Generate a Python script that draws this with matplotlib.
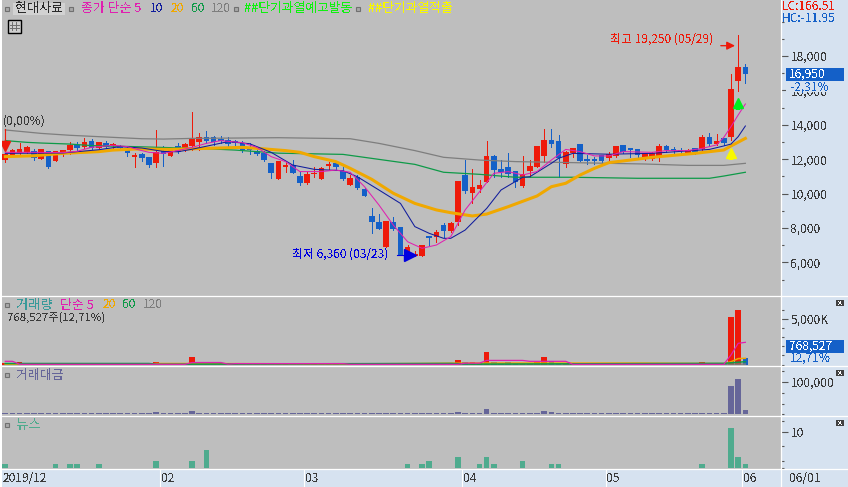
import matplotlib
matplotlib.use("Agg")
import matplotlib.pyplot as plt
import numpy as np
from matplotlib.patches import Rectangle

plt.rcParams["text.antialiased"] = False

W, H = 848, 487
KR = ["Noto Sans CJK KR", "DejaVu Sans"]

# daily candles, 2019/12 .. 2020/06
opens = [11950, 12240, 12340, 12400, 12460, 12010, 12420, 11900, 12440, 12510,
         12810, 12690, 13040, 12670, 12880, 12770, 12730, 12570, 12150, 12240,
         12070, 11800, 12420, 12200, 12710, 12570, 12790, 13020, 13250, 13230,
         13160, 13100, 13000, 12920, 12590, 12460, 12340, 11720, 10850, 11570,
         11600, 10980, 10640, 11120, 10870, 11620, 11760, 11280, 10520, 10910,
         10210, 8680, 8330, 6920, 8330, 8000, 6430, 6360, 6400, 7520,
         7460, 8120, 7830, 8370, 11020, 10050, 10290, 10690, 12130, 11410,
         11490, 11260, 10440, 11310, 11550, 12210, 13060, 13000, 11720, 12360,
         12830, 11990, 11990, 12190, 12070, 12190, 12770, 12630, 12570, 12070,
         12030, 12210, 12730, 12570, 12500, 12380, 12630, 12570, 13250, 12880,
         13170, 13310, 16550, 17300]
highs = [12250, 12570, 12920, 12770, 12570, 12530, 12460, 12460, 12530, 13020,
         13020, 13210, 13170, 13000, 13040, 12920, 12830, 12730, 12340, 12340,
         12150, 13700, 12770, 12570, 12920, 12960, 14740, 13540, 13640, 13350,
         13350, 13270, 13120, 13040, 12920, 12690, 12500, 11720, 11840, 11860,
         11950, 11280, 11280, 11570, 11530, 11820, 11760, 11570, 11080, 11080,
         10310, 9140, 8790, 8390, 8660, 8000, 7010, 6660, 7000, 7520,
         7880, 8270, 8330, 10670, 11950, 11410, 10790, 13060, 12240, 11950,
         12380, 11280, 12190, 11950, 12710, 13760, 13760, 13410, 12500, 12630,
         12830, 12240, 12150, 12190, 12440, 12770, 12830, 12630, 12570, 12380,
         12440, 12880, 12830, 12690, 12650, 12570, 12630, 13410, 13540, 13470,
         13210, 16950, 19250, 17530]
lows = [11860, 12190, 12300, 12340, 11950, 12010, 11490, 11900, 12200, 12280,
        12530, 12630, 12610, 12630, 12630, 12530, 12570, 12190, 11570, 11910,
        11570, 11570, 11620, 12190, 12380, 12500, 12530, 12530, 12920, 12830,
        12920, 12630, 12630, 12440, 12300, 12240, 11910, 10890, 10850, 11280,
        11180, 10500, 10540, 10980, 10870, 11410, 11370, 10790, 10500, 10270,
        9880, 7730, 7960, 6920, 7880, 6430, 6430, 6360, 6400, 7010,
        7210, 7500, 7790, 8170, 10050, 9430, 10110, 10660, 10950, 10950,
        10980, 10360, 10400, 10950, 11550, 11860, 12730, 10950, 11530, 12150,
        11920, 11720, 11700, 11760, 11950, 12150, 12380, 12150, 12110, 11950,
        11950, 11900, 12440, 12280, 12280, 12340, 12300, 12530, 12770, 12810,
        12830, 13120, 15980, 16410]
closes = [12240, 12480, 12530, 12650, 12070, 12530, 11530, 12420, 12510, 12790,
          12630, 12940, 12670, 12940, 12730, 12830, 12670, 12380, 12220, 12050,
          11680, 12360, 12320, 12510, 12440, 12830, 13120, 13270, 13080, 13020,
          13080, 12860, 12960, 12530, 12530, 12300, 11950, 11180, 11840, 11620,
          11220, 10640, 11080, 11180, 11430, 11660, 11570, 10830, 10890, 10330,
          9880, 8370, 7960, 8350, 7940, 6430, 6840, 6470, 7000, 7440,
          7750, 7850, 8230, 10670, 10170, 10330, 10440, 12130, 11370, 11240,
          11140, 10670, 11080, 11550, 12710, 13060, 12880, 12070, 12360, 12630,
          11920, 11900, 11920, 11920, 12260, 12710, 12420, 12530, 12230, 12340,
          12300, 12710, 12540, 12460, 12460, 12520, 12440, 13230, 12860, 12990,
          12920, 16020, 17300, 16950]

# moving averages, read at the bars where the line bends
ma5_i = [0, 4, 8, 10, 12, 15, 17, 19, 20, 22, 24, 26, 28, 30, 33, 35, 37, 39, 41, 44, 46, 48, 50,
         52, 54, 56, 58, 60, 62, 64, 66, 68, 70, 72, 74, 76, 78, 80, 82, 84, 86, 90, 92, 95, 97,
         99, 100, 101, 102, 103]
ma5_v = [12400, 12400, 12380, 12460, 12690, 12810, 12730, 12500, 12400, 12340, 12500, 12690,
         12920, 13080, 12960, 12690, 12150, 11860, 11280, 11280, 11370, 11240, 10400,
         9340, 8170, 7200, 6820, 7010, 7500, 9050, 10110, 11180, 11280, 11080, 11280, 11950,
         12570, 12440, 12190, 12190, 12440, 12400, 12500, 12500, 12630, 12830, 13270, 13890,
         14570, 15210]
ma10_i = [0, 8, 13, 16, 19, 22, 24, 26, 31, 34, 37, 40, 43, 47, 49, 52, 55, 57, 59, 61, 62, 64,
          67, 69, 72, 73, 76, 77, 79, 84, 90, 98, 100, 101, 102, 103]
ma10_v = [12340, 12360, 12550, 12730, 12650, 12450, 12430, 12580, 13020, 12900, 12400, 11660,
          11410, 11330, 10980, 10210, 9430, 8080, 7690, 7400, 7400, 7880, 9140, 10210, 10950,
          10980, 11760, 12050, 12340, 12290, 12340, 12570, 12770, 12880, 13310, 13930]
ma20_i = [0, 4, 8, 13, 15, 18, 23, 28, 33, 36, 39, 41, 43, 46, 48, 51, 54, 57, 60, 62, 65, 67,
          70, 74, 76, 78, 80, 82, 84, 87, 90, 96, 100, 101, 103]
ma20_v = [12150, 12200, 12340, 12440, 12530, 12590, 12570, 12630, 12690, 12600, 12500, 12400,
          12150, 11860, 11470, 10830, 10020, 9430, 9050, 8890, 8700, 8810, 9240, 9860, 10400,
          10600, 11080, 11470, 11800, 11950, 12110, 12340, 12535, 12770, 13210]
ma60_i = [0, 3, 5, 9, 12, 18, 23, 29, 32, 38, 47, 52, 57, 61, 66, 71, 79, 88, 98, 100, 103]
ma60_v = [13080, 12980, 12940, 12880, 12790, 12730, 12670, 12590, 12530, 12350, 12280, 11990,
          11700, 11240, 11120, 10950, 10950, 10890, 10890, 11020, 11240]
ma120_i = [0, 2, 5, 9, 13, 19, 22, 26, 38, 48, 52, 57, 61, 66, 71, 79, 89, 95, 100, 103]
ma120_v = [13700, 13620, 13500, 13390, 13310, 13190, 13170, 13210, 13250, 13190, 12920, 12500,
           12110, 11950, 11860, 11800, 11720, 11640, 11640, 11760]

# volume in thousands of shares
volume = [150, 130, 280, 130, 130, 130, 130, 130, 130, 130,
          130, 130, 130, 130, 130, 130, 130, 130, 130, 130,
          130, 280, 130, 130, 130, 130, 800, 130, 130, 130,
          130, 130, 140, 130, 130, 130, 130, 130, 130, 130,
          130, 130, 130, 130, 130, 130, 130, 130, 130, 130,
          130, 130, 130, 130, 130, 130, 130, 130, 130, 130,
          130, 130, 130, 480, 330, 330, 130, 1350, 230, 130,
          330, 130, 130, 130, 330, 800, 400, 130, 130, 130,
          130, 130, 130, 130, 130, 130, 130, 130, 130, 130,
          130, 130, 130, 130, 130, 130, 130, 330, 130, 130,
          130, 5220, 5990, 768.527]
# only the part of each average that shows above the others
vma5_i = [0, 1, 2, 25, 26, 30, 31, 32, 47, 48, 63, 64, 66, 67, 72, 73, 78, 79, 90, 97, 100, 101, 102, 103]
vma5_v = [350, 350, 20, 20, 220, 220, 40, 100, 100, 20, 20, 150, 150, 450, 450, 350, 350, 20, 20, 20, 20,
          1050, 2330, 2440]
vma20_i = [0, 20, 21, 25, 47, 58, 64, 88, 100, 101, 102, 103]
vma20_v = [40, 40, 110, 110, 60, 110, 160, 160, 100, 300, 650, 680]
vma60_i = [0, 20, 21, 62, 65, 100, 103]
vma60_v = [110, 110, 30, 120, 40, 130, 310]
vma120_i = [0, 58, 62, 103]
vma120_v = [20, 60, 60, 40]

# trading value
money = [3500] * 21 + [6000] + [3500] * 4 + [10000, 5000] + [3500] * 35 + [8000, 5000, 5000, 3500, 16000, 5000, 3500,
         5000, 3500, 5000, 5000, 5000, 10000, 7000, 5000] + [3500] * 19 + [5000, 5000, 3500, 3500, 87000, 108000, 13000]

# news counts
news_i = [0, 7, 9, 10, 13, 21, 26, 28, 56, 58, 59, 63, 66, 67, 68, 72, 76, 77, 97, 101, 102, 103]
news_n = [1, 1, 1, 1, 1, 2, 2, 5, 1, 1, 2, 3, 1, 3, 1, 2, 1, 1, 1, 11, 3, 1]

month_bars = [22, 42, 64, 84, 103]
month_labels = ["02", "03", "04", "05", "06"]
price_ticks = [6000, 8000, 10000, 12000, 14000, 16000, 18000]

BG = "#BEBEBE"
PANEL = "#D6E2F0"
RED = "#EE1A0A"
BLUE = "#1460C8"
MAGENTA = "#E020B0"
NAVY = "#101C9C"
ORANGE = "#F0A800"
GREEN = "#0E9A48"
GRAY = "#7E7E7E"
PURPLE = "#666699"
TEAL = "#4FAB8E"
INK = "#3A3A3A"

fig = plt.figure(figsize=(W / 100, H / 100), dpi=100, facecolor=PANEL)


def pane(top, bottom, y0, y1):
    ax = fig.add_axes([2 / W, 1 - bottom / H, 779 / W, (bottom - top) / H], facecolor=BG)
    ax.set_xlim((2 - 5.3) / 7.185, (781 - 5.3) / 7.185)
    ax.set_ylim(y0, y1)
    ax.set_xticks([])
    for s in ax.spines.values():
        s.set_visible(False)
    ax.yaxis.tick_right()
    ax.tick_params(axis="y", which="major", length=5, width=0.8, color="#555555", labelsize=8.6,
                   labelcolor=INK, pad=2)
    ax.tick_params(axis="y", which="minor", length=2.4, width=0.8, color="#555555")
    return ax


x = np.arange(len(closes))
up = np.array(closes) >= np.array(opens)
cols = [RED if u else BLUE for u in up]
body_w = 0.78

# price pane
ax = pane(0, 296, 4046, 21256)
ax.vlines(x, lows, highs, colors=cols, linewidth=0.72, zorder=3, antialiased=False)
ax.bar(x, np.abs(np.array(closes) - np.array(opens)) + 40, body_w, bottom=np.minimum(opens, closes),
       color=cols, linewidth=0, zorder=3, antialiased=False)
ax.plot(ma120_i, ma120_v, color=GRAY, lw=0.9, zorder=4)
ax.plot(ma60_i, ma60_v, color=GREEN, lw=0.9, zorder=4)
ax.plot(ma20_i, ma20_v, color=ORANGE, lw=2.2, zorder=4)
ax.plot(ma10_i, ma10_v, color=NAVY, lw=0.75, zorder=5)
ax.plot(ma5_i, ma5_v, color=MAGENTA, lw=0.75, zorder=5)
ax.set_yticks(price_ticks)
ax.set_yticklabels([f"{t:,}" for t in price_ticks], family=KR)
ax.set_yticks(np.arange(5000, 21000, 1000), minor=True)

# high / low / start markers
ax.annotate("", xy=(101.95, 18600), xytext=(99.2, 18600),
            arrowprops=dict(arrowstyle="-|>", color=RED, lw=1.0, mutation_scale=12), zorder=6)
ax.plot([54.5, 56], [6430, 6430], color="#0000E0", lw=0.8, zorder=6)
ax.plot(56.3, 6430, marker=">", color="#0000E0", ms=8, zorder=6)
ax.plot([0, 0], [12800, 13750], color=RED, lw=0.8, zorder=6)
ax.plot(0, 12780, marker="v", color=RED, ms=6.5, zorder=6)
ax.plot([102, 102], [14860, 15200], color="#00F020", lw=3.2, zorder=6, solid_capstyle="butt")
ax.plot(102, 15240, marker="^", color="#00F020", ms=6.5, zorder=6)
ax.plot([101, 101], [11950, 12300], color="#F8F800", lw=3.2, zorder=6, solid_capstyle="butt")
ax.plot(101, 12350, marker="^", color="#F8F800", ms=6.5, zorder=6)

# volume pane
ax2 = pane(297, 366, -165, 7425)
ax2.bar(x, volume, body_w, color=cols, linewidth=0, antialiased=False)
ax2.plot(vma120_i, vma120_v, color=GRAY, lw=1.1)
ax2.plot(vma20_i, vma20_v, color=ORANGE, lw=1.1)
ax2.plot(vma60_i, vma60_v, color=GREEN, lw=1.1)
ax2.plot(vma5_i, vma5_v, color=MAGENTA, lw=0.9)
ax2.set_yticks([5000])
ax2.set_yticklabels(["5,000K"], family=KR)
ax2.set_yticks([0, 1000, 2000, 3000, 4000, 6000], minor=True)

# trading value pane
ax3 = pane(367, 416, -5200, 144600)
ax3.bar(x, money, body_w, color=PURPLE, linewidth=0, antialiased=False)
ax3.set_yticks([100000])
ax3.set_yticklabels(["100,000"], family=KR)
ax3.set_yticks([0, 33000, 66000, 133000], minor=True)

# news pane
ax4 = pane(417, 469, -0.28, 14.2)
ax4.bar(news_i, news_n, body_w, color=TEAL, linewidth=0, antialiased=False)
ax4.set_yticks([10])
ax4.set_yticklabels(["10"], family=KR)
ax4.set_yticks([0, 2, 6, 13], minor=True)

# date strip
ax5 = fig.add_axes([2 / W, 0, 779 / W, 18 / H], facecolor=PANEL)
ax5.set_xlim(ax.get_xlim())
ax5.set_ylim(0, 1)
ax5.set_xticks([])
ax5.set_yticks([])
for s in ax5.spines.values():
    s.set_visible(False)
for m, lab in zip(month_bars, month_labels):
    ax5.axvline(m - 0.4, color="white", lw=0.8)
    ax5.text(m - 0.3, 0.45, lab, fontsize=8.6, color=INK, family=KR, va="center", ha="left")
ax5.text(-0.35, 0.45, "2019/12", fontsize=8.6, color=INK, family=KR, va="center", ha="left")

# overlay in pixel coordinates for the screen furniture
ov = fig.add_axes([0, 0, 1, 1], facecolor="none", zorder=10)
ov.set_xlim(0, W)
ov.set_ylim(H, 0)
ov.axis("off")


def txt(px, py, s, color=INK, size=8.6, **kw):
    ov.text(px, py, s, color=color, fontsize=size, family=KR, va="center", ha=kw.pop("ha", "left"), **kw)


def square(px, py):
    ov.add_patch(Rectangle((px - 2, py - 2), 4, 4, fc="#A8A8A8", ec="#707070", lw=0.8))


def closer(px, py):
    ov.add_patch(Rectangle((px - 4, py - 3), 8, 6, fc="#404040", ec="none"))
    ov.text(px, py, "x", color="white", fontsize=5, ha="center", va="center")


for y in (296, 366, 416, 469):
    ov.plot([0, W], [y, y], color="white", lw=0.9)
ov.plot([781, 781], [0, H], color="white", lw=0.9)
ov.add_patch(Rectangle((0, 0), 2, H, fc="white", ec="none"))

# title row
ov.add_patch(Rectangle((13, 3), 52, 12, fc="#D2D2D2", ec="none"))
for px in (7, 71, 236, 358):
    square(px, 9)
txt(15, 8.5, "현대사료", "#2A2A2A", 9.4)
txt(81, 8.5, "종가 단순 5", MAGENTA, 9.3)
txt(150, 8.5, "10", NAVY)
txt(171, 8.5, "20", ORANGE)
txt(191, 8.5, "60", GREEN)
txt(211, 8.5, "120", GRAY)
txt(244, 8.5, "##단기과열예고발동", "#10F010", 9.2)
txt(368, 8.5, "##단기과열적출", "#F8F800", 9.2)
ov.add_patch(Rectangle((7.5, 19.5), 13, 13, fc="#D0D0D0", ec="black", lw=1))
for px in (11.5, 15.5):
    ov.plot([px, px], [22, 30], color="#707070", lw=0.7)
for py in (25, 28):
    ov.plot([9.5, 18.5], [py, py], color="#707070", lw=0.7)

txt(3, 121, "(0,00%)", INK)
txt(610, 39, "최고 19,250 (05/29)", RED)
txt(292, 254, "최저 6,360 (03/23)", "#0000E0")

# right column read-outs
txt(782, 6, "LC:166.51", RED)
txt(782, 19, "HC:-11.95", BLUE)
ov.add_patch(Rectangle((786, 68), 58, 13, fc=BLUE, ec="none"))
txt(789, 74.5, "16,950", "white")
ov.add_patch(Rectangle((786, 81), 50, 11, fc=PANEL, ec="none"))
txt(790, 87, "-2,31%", BLUE)
ov.add_patch(Rectangle((786, 340), 58, 13, fc=BLUE, ec="none"))
txt(789, 346.5, "768,527", "white")
txt(790, 358, "12,71%", BLUE)
txt(789, 478, "06/01", INK)
for py in (303, 373, 423):
    closer(840, py)

# lower pane legends
square(7, 305)
txt(16, 305, "거래량", "#3A9A9A", 9.6)
txt(60, 305, "단순 5", MAGENTA, 9.3)
txt(103, 305, "20", ORANGE)
txt(122, 305, "60", GREEN)
txt(143, 305, "120", GRAY)
txt(7, 318, "768,527주(12,71%)", INK, 8.2)
square(7, 375)
txt(16, 375, "거래대금", PURPLE, 9.3)
square(7, 425)
txt(16, 425, "뉴스", TEAL, 9.6)

fig.savefig("out.png", dpi=100, facecolor=fig.get_facecolor())
